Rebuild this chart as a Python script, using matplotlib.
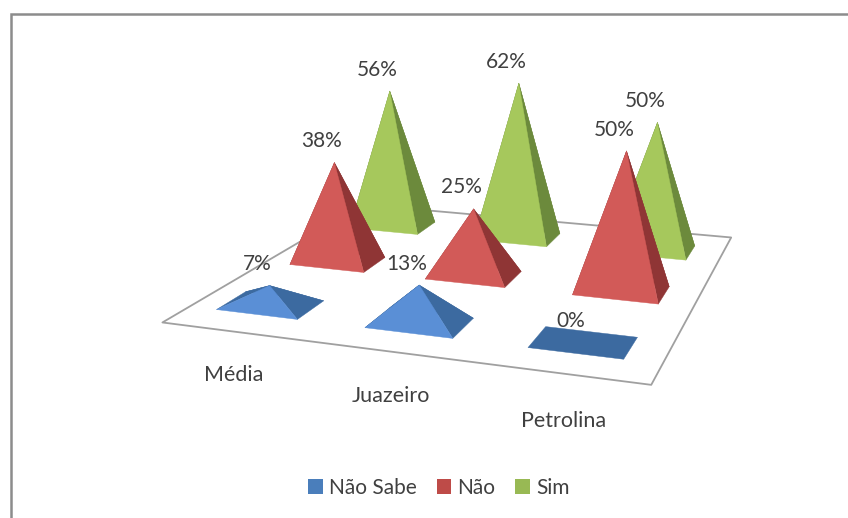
import matplotlib
matplotlib.use("Agg")
import matplotlib.pyplot as plt
from matplotlib.patches import Patch, Rectangle
from mpl_toolkits.mplot3d import proj3d
from mpl_toolkits.mplot3d.art3d import Poly3DCollection

plt.rcParams['font.family'] = ['Lato', 'DejaVu Sans']

categories = ['Média', 'Juazeiro', 'Petrolina']
series_names = ['Não Sabe', 'Não', 'Sim']
nao_sabe = [7, 13, 0]
nao = [38, 25, 50]
sim = [56, 62, 50]
series_values = [nao_sabe, nao, sim]

light = ['#5a8fd6', '#d25a58', '#a6c85c']
dark = ['#3c6aa0', '#8f3535', '#6c8a3c']
legend_colors = ['#4a7ebb', '#be4b48', '#98b954']
TEXT = '#404040'
col_x = [0.47, 1.48, 2.5]
label_x = [0.83, 1.75, 2.68]

fig = plt.figure(figsize=(8.48, 5.18), dpi=100, facecolor='white')
ax = fig.add_axes([40.5 / 848, -192.5 / 518, 1.0, 848 / 518], projection='3d', computed_zorder=False)
ax.set_proj_type('persp', focal_length=0.274)
ax.view_init(elev=17.8, azim=-71.05)
ax.set_box_aspect((0.975, 0.975, 0.845), zoom=0.8408)
ax.set_xlim(0, 3); ax.set_ylim(0, 3); ax.set_zlim(-70, 70)
ax.set_axis_off()
ax.patch.set_alpha(0)

floor = [[(0, 0, 0), (3, 0, 0), (3, 3, 0), (0, 3, 0)]]
ax.add_collection3d(Poly3DCollection(floor, facecolor='white', edgecolor='#a0a0a0',
                                     linewidth=1.3, zorder=1))

half_x = 0.28
half_y = 0.185
order = 2
for s in range(2, -1, -1):
    for c in range(3):
        v = series_values[s][c]
        cx, cy = col_x[c], s + 0.5
        a = (cx - half_x, cy - half_y, 0)
        b = (cx + half_x, cy - half_y, 0)
        d = (cx + half_x, cy + half_y, 0)
        e = (cx - half_x, cy + half_y, 0)
        top = (cx, cy, v)
        if v == 0:
            faces = [([a, b, d, e], dark[s])]
        else:
            faces = [([e, d, top], dark[s]), ([e, a, top], dark[s]),
                     ([b, d, top], dark[s]), ([a, b, top], light[s])]
        for pts, col in faces:
            order += 1
            ax.add_collection3d(Poly3DCollection([pts], facecolor=col, edgecolor=col,
                                                 linewidth=0.3, zorder=order))

M = ax.get_proj()
for s in range(3):
    for c in range(3):
        v = series_values[s][c]
        px, py, _ = proj3d.proj_transform(col_x[c], s + 0.5, v, M)
        ax.annotate(f'{v}%', (px, py), xytext=(-12, 21), textcoords='offset pixels',
                    ha='center', va='center', fontsize=15, color=TEXT, zorder=100)

for c, name in enumerate(categories):
    px, py, _ = proj3d.proj_transform(label_x[c], -0.6, 0, M)
    ax.annotate(name, (px, py), ha='center', va='center', fontsize=15.5, color=TEXT, zorder=100)

handles = [Patch(facecolor=col) for col in legend_colors]
fig.legend(handles, series_names, ncols=3, loc='center', bbox_to_anchor=(439 / 848, 1 - 488 / 518),
           frameon=False, fontsize=15, labelcolor=TEXT, handlelength=0.7, handleheight=0.7,
           handletextpad=0.3, columnspacing=0.95)

fig.add_artist(Rectangle((11 / 848, -0.1), 1.1, 1.1 - 14 / 518, transform=fig.transFigure,
                         fill=False, edgecolor='#8c8c8c', linewidth=1.8))

fig.savefig('out.png', dpi=100)
